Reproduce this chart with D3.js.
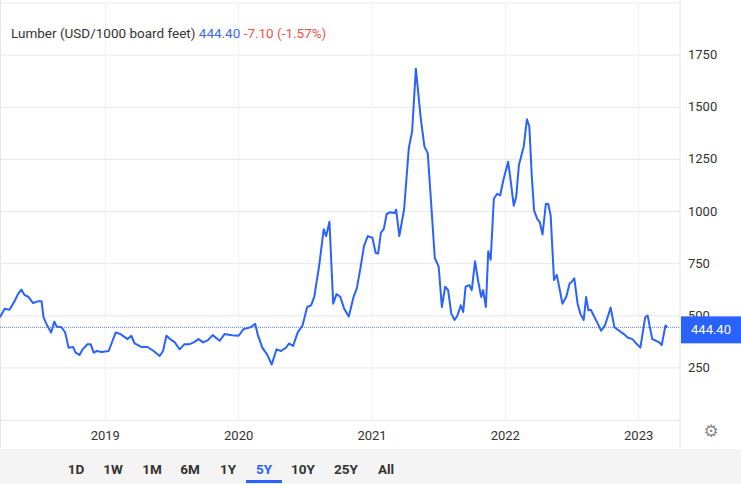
<!DOCTYPE html>
<html><head><meta charset="utf-8">
<script src="https://cdn.jsdelivr.net/npm/d3@7"></script>
<style>body{margin:0;background:#fff;font-family:Roboto,Arial,sans-serif}</style>
</head><body><svg id="chart" width="741" height="484"></svg>
<script>
// decimal years and prices (USD/1000 board feet)
const years=[2018.210,2018.245,2018.281,2018.316,2018.345,2018.370,2018.394,2018.423,2018.458,2018.494,2018.522,2018.536,2018.564,2018.593,2018.618,2018.635,2018.671,2018.699,2018.724,2018.759,2018.777,2018.806,2018.830,2018.866,2018.891,2018.912,2018.937,2018.972,2019.025,2019.078,2019.114,2019.167,2019.195,2019.220,2019.273,2019.316,2019.362,2019.408,2019.433,2019.458,2019.486,2019.522,2019.557,2019.592,2019.628,2019.663,2019.699,2019.734,2019.770,2019.805,2019.858,2019.894,2019.947,2020.000,2020.036,2020.089,2020.124,2020.142,2020.177,2020.213,2020.248,2020.284,2020.319,2020.355,2020.379,2020.408,2020.443,2020.479,2020.514,2020.543,2020.567,2020.603,2020.638,2020.656,2020.681,2020.709,2020.734,2020.762,2020.791,2020.826,2020.862,2020.886,2020.911,2020.940,2020.968,2021.003,2021.028,2021.046,2021.067,2021.088,2021.110,2021.134,2021.170,2021.181,2021.205,2021.241,2021.276,2021.301,2021.329,2021.365,2021.393,2021.418,2021.443,2021.471,2021.500,2021.524,2021.549,2021.571,2021.595,2021.620,2021.641,2021.666,2021.684,2021.702,2021.730,2021.748,2021.773,2021.797,2021.819,2021.833,2021.854,2021.872,2021.890,2021.914,2021.939,2021.961,2021.985,2022.021,2022.038,2022.063,2022.081,2022.102,2022.138,2022.162,2022.180,2022.198,2022.216,2022.240,2022.258,2022.279,2022.304,2022.322,2022.340,2022.365,2022.386,2022.411,2022.428,2022.457,2022.482,2022.499,2022.517,2022.542,2022.563,2022.588,2022.606,2022.623,2022.641,2022.669,2022.694,2022.719,2022.747,2022.790,2022.818,2022.854,2022.889,2022.917,2022.953,2022.988,2023.013,2023.049,2023.067,2023.102,2023.130,2023.155,2023.173,2023.201,2023.215];
const prices=[493,534,529,566,604,626,599,591,561,569,569,493,453,420,472,448,445,420,347,350,323,312,339,363,363,323,331,326,331,420,412,388,404,367,350,350,331,307,331,404,388,372,339,363,363,372,388,372,383,407,380,412,407,404,436,445,461,412,347,315,266,339,331,347,367,355,420,453,542,550,591,737,915,882,951,558,604,591,534,496,591,631,720,834,882,874,801,798,899,915,988,996,993,1009,882,1012,1304,1385,1685,1450,1312,1280,1045,777,736,542,639,623,509,480,501,550,518,639,647,623,761,663,590,623,542,809,769,1061,1085,1077,1150,1239,1158,1028,1069,1223,1312,1442,1409,1174,1004,963,950,890,1036,1036,980,672,696,615,558,591,655,663,680,558,509,480,590,526,529,493,461,428,453,539,445,428,412,396,388,363,347,493,501,388,380,372,360,453,444.4];
const yTicks=[250,500,750,1000,1250,1500,1750,2000];
const yearTicks=[2019,2020,2021,2022,2023];
const ranges=["1D","1W","1M","6M","1Y","5Y","10Y","25Y","All"];
const title="Lumber (USD/1000 board feet)", last="444.40", change="-7.10", changePct="(-1.57%)";

const svg=d3.select("#chart");
const W=680,pTop=3,pBottom=420;
const n=Math.min(years.length,prices.length);
const x=d3.scaleLinear().domain([2018.21,2023.31]).range([0,W]);
const y=d3.scaleLinear().domain([0,2000]).range([pBottom,pTop]);

svg.append("rect").attr("x",0).attr("y",0).attr("width",741).attr("height",484).attr("fill","#fff");
// grid
svg.selectAll(".hg").data(yTicks).enter().append("line")
  .attr("x1",0).attr("x2",W).attr("y1",d=>y(d)).attr("y2",d=>y(d))
  .attr("stroke","#e8e8e8");
svg.selectAll(".vg").data(yearTicks).enter().append("line")
  .attr("x1",d=>x(d)).attr("x2",d=>x(d)).attr("y1",pTop).attr("y2",pBottom)
  .attr("stroke","#f0f0f0");
svg.append("line").attr("x1",W).attr("x2",W).attr("y1",0).attr("y2",448).attr("stroke","#e6e6e6");
svg.append("line").attr("x1",0).attr("x2",W).attr("y1",pBottom+0.5).attr("y2",pBottom+0.5).attr("stroke","#e6e6e6");
svg.append("line").attr("x1",0.5).attr("x2",0.5).attr("y1",0).attr("y2",448).attr("stroke","#e6e6e6");

// y labels
svg.selectAll(".yl").data(yTicks.filter(d=>d<2000)).enter().append("text")
  .attr("x",688).attr("y",d=>y(d)+4).text(d=>d)
  .attr("font-size",13).attr("fill","#333");
// x labels
svg.selectAll(".xl").data(yearTicks).enter().append("text")
  .attr("x",d=>x(d)).attr("y",440).attr("text-anchor","middle").text(d=>d)
  .attr("font-size",13).attr("fill","#333");

// last price line
const ly=y(+last);
svg.append("line").attr("x1",0).attr("x2",W).attr("y1",ly).attr("y2",ly)
  .attr("stroke","#5b7cf5").attr("stroke-dasharray","1,1");

// series
const line=d3.line().x((d,i)=>x(years[i])).y(d=>y(d));
svg.append("path").datum(prices.slice(0,n)).attr("d",line).attr("fill","none")
  .attr("stroke","#2962ff").attr("stroke-width",2).attr("stroke-linejoin","round");

svg.append("rect").attr("x",W+1).attr("y",ly-11).attr("width",60).attr("height",27).attr("fill","#2962ff");
svg.append("text").attr("x",711).attr("y",ly+7).attr("text-anchor","middle").text(last)
  .attr("font-size",13).attr("fill","#fff");

// title
const t=svg.append("text").attr("x",11).attr("y",38).attr("font-size",13.5);
t.append("tspan").text(title+" ").attr("fill","#333");
t.append("tspan").text(last+" ").attr("fill","#3d6af5");
t.append("tspan").text(" "+change+" "+changePct).attr("fill","#f0504a");

// gear
svg.append("text").attr("x",711).attr("y",437).attr("text-anchor","middle").text("⚙")
  .attr("font-size",17).attr("fill","#888").attr("font-family","DejaVu Sans");

// range bar
svg.append("rect").attr("x",0).attr("y",449).attr("width",741).attr("height",35).attr("fill","#f4f4f4");
const bpos={"1D":76,"1W":113,"1M":152,"6M":190,"1Y":228,"5Y":264,"10Y":303,"25Y":346,"All":386};
svg.selectAll(".rb").data(ranges).enter().append("text")
  .attr("x",d=>bpos[d]).attr("y",474).attr("text-anchor","middle").text(d=>d)
  .attr("font-size",13.5).attr("font-weight","bold").attr("fill",d=>d==="5Y"?"#2962ff":"#333");
svg.append("rect").attr("x",bpos["5Y"]-18).attr("y",480).attr("width",36).attr("height",3).attr("fill","#2962ff");
</script></body></html>
